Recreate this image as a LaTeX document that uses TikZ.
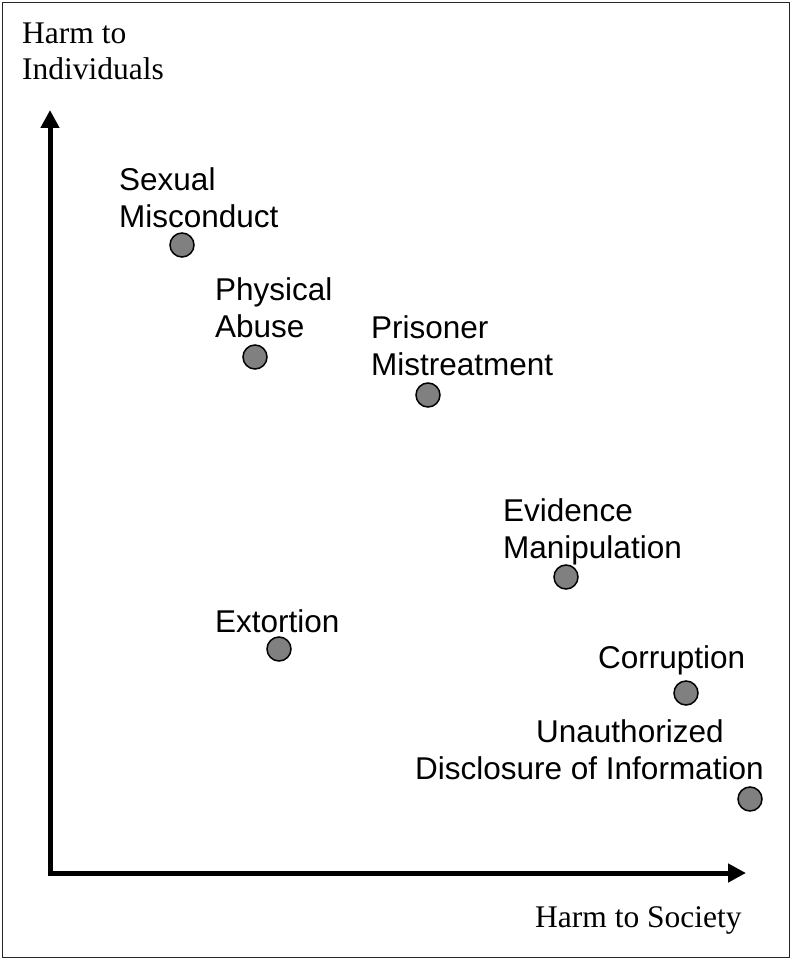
\documentclass[tikz,border=0pt]{standalone}
\usepackage{fontspec}
\setmainfont{Liberation Serif}
\setsansfont{Liberation Sans}
\usepackage{tikz}
\usetikzlibrary{arrows.meta, positioning}
\tikzstyle{harmaxis} = [line width=5pt, line join=miter, {Triangle[length=18pt, width=18pt]}-{Triangle[length=18pt, width=18pt]}]
\tikzstyle{axislabel} = [font=\fontsize{31.5}{36}\selectfont, align=left, anchor=base west, inner sep=0pt]
\tikzstyle{crime} = [circle, draw=black, line width=1.5pt, fill=gray, minimum size=24pt, inner sep=0pt]
\tikzstyle{crimelabel} = [font=\sffamily\fontsize{31.5}{36.5}\selectfont, align=left, anchor=base west, inner sep=0pt]

\begin{document}
\begin{tikzpicture}[x=1pt, y=-1pt]
\useasboundingbox (0,0) rectangle (792,960);
\draw [line width=1.2pt, black!85] (2.5,2.5) rectangle (789.5,957.5);

% axes
\coordinate (ytip) at (50,110);
\coordinate (origin) at (50,873);
\coordinate (xtip) at (746,873);
\draw [harmaxis] (ytip) -- (origin) -- (xtip);
\node (ylab) [axislabel] at (22,80) {Harm to\\Individuals};
\node (xlab) [axislabel] at (535,927) {Harm to Society};

% offences
\node (sexual) [crime] at (182,245) {};
\node (physical) [crime] at (255,357) {};
\node (prisoner) [crime] at (428,395) {};
\node (evidence) [crime] at (566,577) {};
\node (extortion) [crime] at (279,649) {};
\node (corruption) [crime] at (686,693) {};
\node (disclosure) [crime] at (750,799) {};

\node (sexuallab) [crimelabel] at (119,227) {Sexual\\Misconduct};
\node (physicallab) [crimelabel] at (215,337) {Physical\\Abuse};
\node (prisonerlab) [crimelabel] at (371,375) {Prisoner\\Mistreatment};
\node (evidencelab) [crimelabel] at (503,558) {Evidence\\Manipulation};
\node (extortionlab) [crimelabel] at (215,632) {Extortion};
\node (corruptionlab) [crimelabel] at (598,668) {Corruption};
\node (disclosurelab) [crimelabel] at (415,779) {\hspace*{121pt}Unauthorized\\Disclosure of Information};

\end{tikzpicture}
\end{document}
